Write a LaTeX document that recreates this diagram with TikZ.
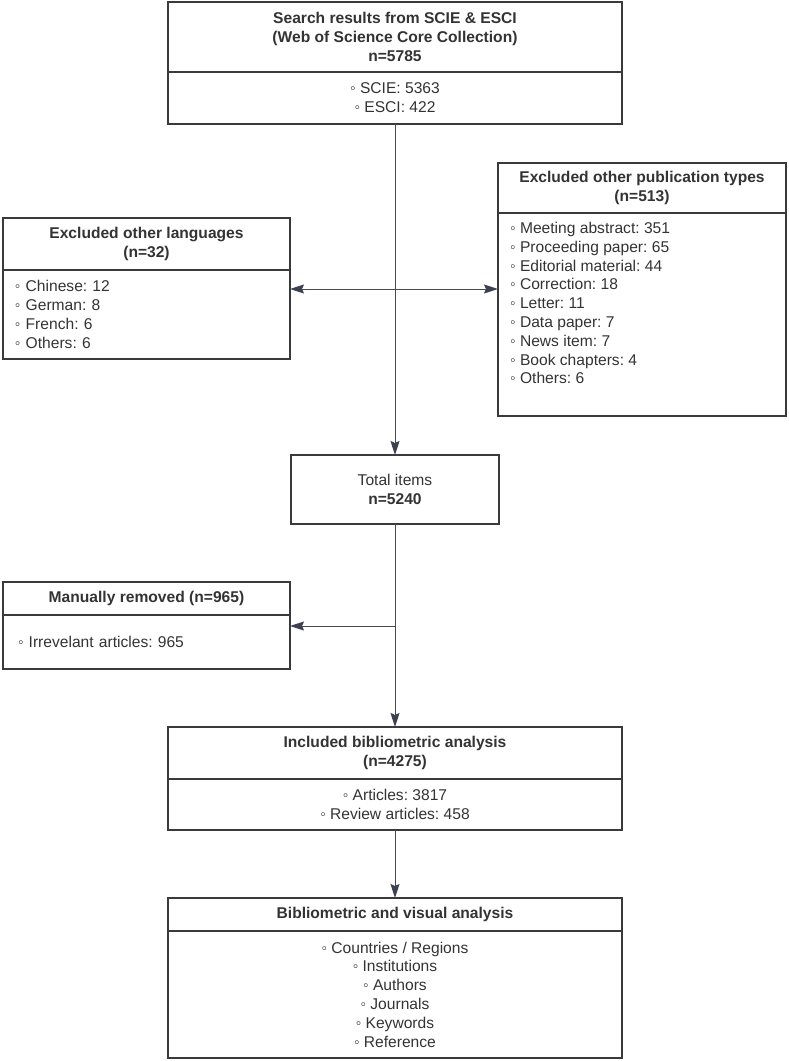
\documentclass[tikz,border=0pt]{standalone}
\usepackage{fontspec}
\setmainfont{Liberation Sans}
\usepackage{xcolor}
\definecolor{ink}{HTML}{333333}
\definecolor{frame}{HTML}{3A3A3A}
\definecolor{wire}{HTML}{4A4A4A}
\definecolor{tipfill}{HTML}{3B4150}
\usetikzlibrary{positioning}
\usetikzlibrary{arrows.meta}
\newcommand{\dotitem}{◦~}
\frenchspacing
\tikzset{
  box/.style={draw=frame, line width=1.6pt, inner sep=0pt, outer sep=0pt, text=ink,
    font=\fontsize{15.6}{18.8}\selectfont, align=center},
  headbox/.style={box, font=\fontsize{15.6}{18.8}\selectfont\bfseries},
  listtext/.style={inner sep=0pt, text=ink, font=\fontsize{15.6}{18.8}\selectfont, align=left},
  flow/.style={draw=wire, line width=1pt, -{Stealth[length=14pt,width=9pt,inset=2pt,color=tipfill]}},
  flowboth/.style={draw=wire, line width=1pt, {Stealth[length=14pt,width=9pt,inset=2pt,color=tipfill]}-{Stealth[length=14pt,width=9pt,inset=2pt,color=tipfill]}}
}

\begin{document}
\begin{tikzpicture}[x=1pt, y=-1pt]
  \useasboundingbox (0,0) rectangle (789,1061);

  % Search results
  \node[headbox, anchor=north, minimum width=454pt, minimum height=70pt] (searchhead) at (395,2) {Search results from SCIE \& ESCI\\(Web of Science Core Collection)\\n=5785};
  \node[box, below=0pt of searchhead, minimum width=454pt, minimum height=52pt] (searchbody) {\dotitem SCIE: 5363\\\dotitem ESCI: 422};

  % Excluded languages
  \node[headbox, anchor=north west, minimum width=287pt, minimum height=52pt] (langhead) at (3,218) {Excluded other languages\\(n=32)};
  \node[box, below=0pt of langhead, text width=263pt, inner xsep=12pt, minimum height=89pt, align=left] (langbody) {\dotitem Chinese: 12\\\dotitem German: 8\\\dotitem French: 6\\\dotitem Others: 6};

  % Excluded publication types
  \node[headbox, anchor=north west, minimum width=288pt, minimum height=50pt] (typehead) at (498,163) {Excluded other publication types\\(n=513)};
  \node[box, below=0pt of typehead, minimum width=288pt, minimum height=203pt] (typebody) {};
  \node[listtext, anchor=north west] (typelist) at ([xshift=12pt, yshift=-9pt]typebody.north west) {\dotitem Meeting abstract: 351\\\dotitem Proceeding paper: 65\\\dotitem Editorial material: 44\\\dotitem Correction: 18\\\dotitem Letter: 11\\\dotitem Data paper: 7\\\dotitem News item: 7\\\dotitem Book chapters: 4\\\dotitem Others: 6};

  % Total items
  \node[box, anchor=north, minimum width=208pt, minimum height=69pt] (totalbox) at (395,455) {Total items\\\textbf{n=5240}};

  % Manually removed
  \node[headbox, anchor=north west, minimum width=287pt, minimum height=33pt] (removedhead) at (3,582) {Manually removed (n=965)};
  \node[box, below=0pt of removedhead, text width=257pt, inner xsep=15pt, minimum height=54pt, align=left] (removedbody) {\dotitem Irrevelant articles: 965};

  % Included
  \node[headbox, anchor=north, minimum width=454pt, minimum height=52pt] (includedhead) at (395,727) {Included bibliometric analysis\\(n=4275)};
  \node[box, below=0pt of includedhead, minimum width=454pt, minimum height=51pt] (includedbody) {\dotitem Articles: 3817\\\dotitem Review articles: 458};

  % Analysis
  \node[headbox, anchor=north, minimum width=454pt, minimum height=33pt] (analysishead) at (395,898) {Bibliometric and visual analysis};
  \node[box, below=0pt of analysishead, minimum width=454pt, minimum height=127pt] (analysisbody) {\dotitem Countries / Regions\\\dotitem Institutions\\\dotitem Authors\\\dotitem Journals\\\dotitem Keywords\\\dotitem Reference};

  % connectors
  \coordinate (forkup) at (searchbody.south |- 0,289);
  \coordinate (forkdown) at (totalbox.south |- 0,626);
  \draw[flow] (searchbody.south) -- (totalbox.north);
  \draw[flowboth] (langbody.east |- forkup) -- (typebody.west |- forkup);
  \draw[flow] (totalbox.south) -- (includedhead.north);
  \draw[flow] (forkdown) -- (removedbody.east |- forkdown);
  \draw[flow] (includedbody.south) -- (analysishead.north);

\end{tikzpicture}
\end{document}
